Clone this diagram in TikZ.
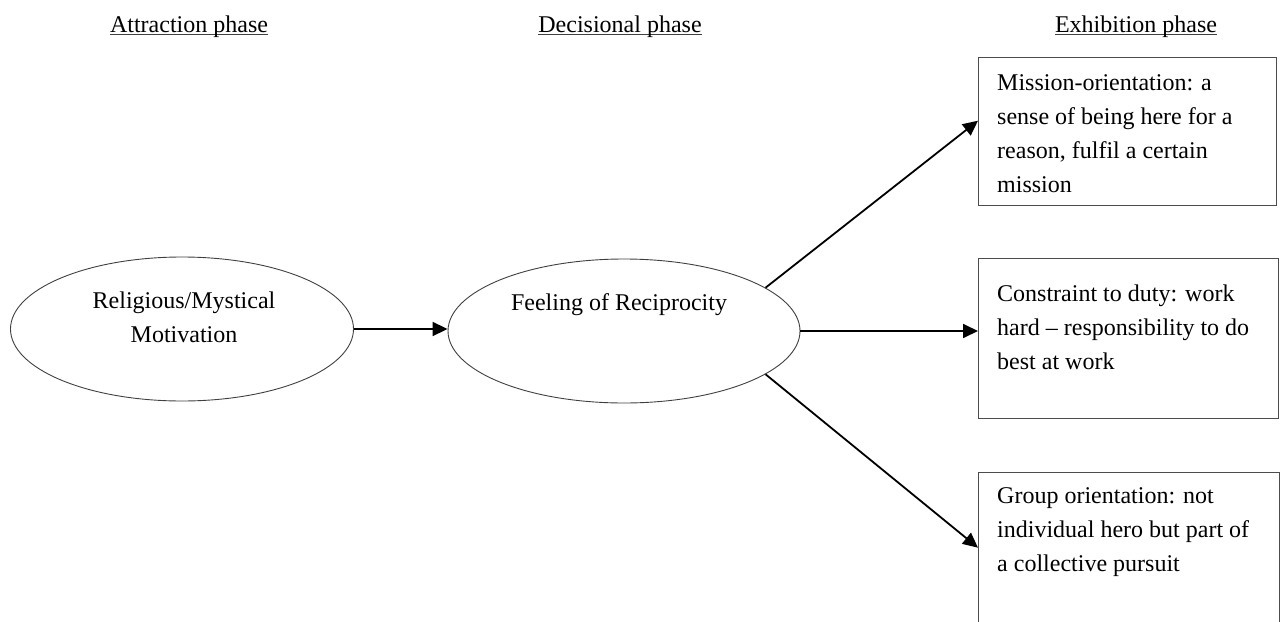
\documentclass[tikz,border=0pt]{standalone}
\usepackage{fontspec}
\setmainfont{Liberation Serif}
\usetikzlibrary{shapes.geometric,arrows.meta,calc}
\newcommand\myul[1]{\setbox0\hbox{#1}\rlap{\textcolor{black!75}{\rule[-3pt]{\wd0}{1.4pt}}}\box0}
\begin{document}
\begin{tikzpicture}[x=1pt,y=-1pt,
  font=\fontsize{24}{34}\selectfont,
  oval/.style={ellipse, draw=black!75, line width=0.9pt, inner sep=0pt},
  phasebox/.style={rectangle, draw=black!70, line width=1.4pt, anchor=north west, inner sep=0pt},
  conn/.style={-{Triangle[length=15pt,width=14pt]}, line width=1.8pt},
  txt/.style={anchor=base west, inner sep=0pt},
  hdr/.style={anchor=base, inner sep=0pt}]
\useasboundingbox (0,0) rectangle (1287,621);
\clip (0,0) rectangle (1287,621);
% headers
\node[hdr] (h1) at (189,32) {\myul{Attraction phase}};
\node[hdr] (h2) at (620,32) {\myul{Decisional phase}};
\node[hdr] (h3) at (1136,32) {\myul{Exhibition phase}};
% ellipses
\node[oval, minimum width=343, minimum height=144] (e1) at (182,329) {};
\node[hdr] (t1) at (184,308) {\parbox[t]{260pt}{\centering Religious/Mystical\\ Motivation}};
\node[oval, minimum width=352, minimum height=144] (e2) at (624,331) {};
\node[hdr] (t2) at (619,310) {Feeling of Reciprocity};
% boxes
\node[phasebox, minimum width=298, minimum height=148] (b1) at (978,57) {};
\node[phasebox, minimum width=300, minimum height=160] (b2) at (978,258) {};
\node[phasebox, minimum width=301, minimum height=160] (b3) at (978,472) {};
\node[txt] (m1) at (997,90) {\parbox[t]{275pt}{\raggedright Mission-orientation: a\\ sense of being here for a\\ reason, fulfil a certain\\ mission}};
\node[txt] (m2) at (997,301) {\parbox[t]{275pt}{\raggedright Constraint to duty: work\\ hard -- responsibility to do\\ best at work}};
\node[txt] (m3) at (997,503) {\parbox[t]{275pt}{\raggedright Group orientation: not\\ individual hero but part of\\ a collective pursuit}};
% connectors
\draw[conn] (e1.east) -- (e1.east -| e2.west);
\draw[conn] (e2.17) -- ($(b1.west)+(0,-11)$);
\draw[conn] (e2.east) -- (e2.east -| b2.west);
\draw[conn] (e2.-17) -- ($(b3.west)+(0,-5)$);
\end{tikzpicture}
\end{document}
